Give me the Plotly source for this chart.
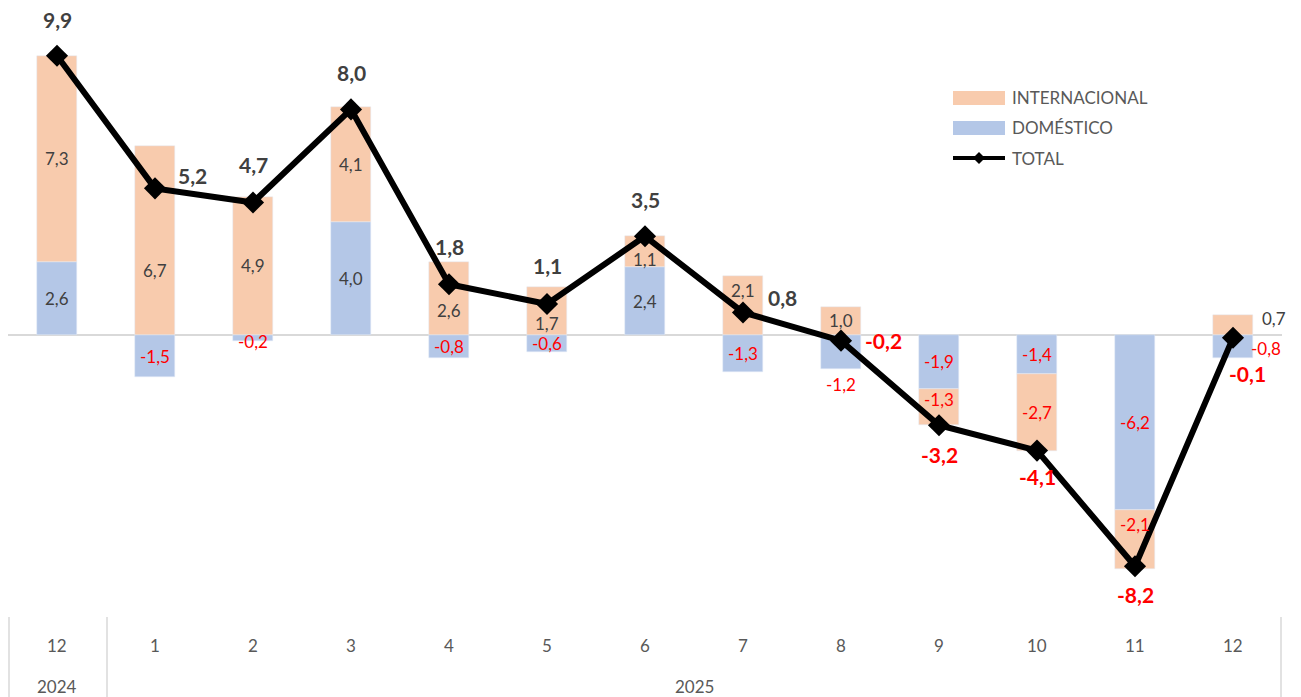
import plotly.graph_objects as go

months = ["12", "1", "2", "3", "4", "5", "6", "7", "8", "9", "10", "11", "12"]
years = ["2024", "2025"]
domestico = [2.6, -1.5, -0.2, 4.0, -0.8, -0.6, 2.4, -1.3, -1.2, -1.9, -1.4, -6.2, -0.8]
internacional = [7.3, 6.7, 4.9, 4.1, 2.6, 1.7, 1.1, 2.1, 1.0, -1.3, -2.7, -2.1, 0.7]
total = [9.9, 5.2, 4.7, 8.0, 1.8, 1.1, 3.5, 0.8, -0.2, -3.2, -4.1, -8.2, -0.1]

C_INT = "#F8CBAD"
C_DOM = "#B4C7E7"
RED = "#FF0000"
DARK = "#404040"
GRAY = "#595959"
FONT = "Lato"

# page body has an 8px margin; work in screen coordinates
OFF = 8
W, H = 1301 - OFF, 697 - OFF
L, R, T, B = 0, 19, 0, 92
PW, PH = W - L - R, H - T - B
ZERO_Y, SCALE = 335, 28.2
YMAX = (ZERO_Y - OFF) / SCALE
YMIN = -(605 - ZERO_Y) / SCALE

def fmt(v):
    return f"{v:.1f}".replace(".", ",")

def px(X):
    return (X - OFF - L) / PW

def py(Y):
    return (T + PH - (Y - OFF)) / PH

x = list(range(len(months)))

fig = go.Figure()
fig.add_trace(go.Bar(x=x, y=domestico, marker_color=C_DOM, width=0.41, name="DOMÉSTICO", showlegend=False))
fig.add_trace(go.Bar(x=x, y=internacional, marker_color=C_INT, width=0.41, name="INTERNACIONAL", showlegend=False))
fig.add_trace(go.Scatter(x=x, y=total, mode="lines+markers", name="TOTAL", showlegend=False,
                         line=dict(color="black", width=6),
                         marker=dict(symbol="diamond", size=17, color="black")))

ann = []
dom_shift = {2: (0, -4), 8: (0, -33), 12: (33, -2)}
int_shift = {1: (0, -30), 4: (0, -12), 5: (0, -12), 6: (0, -8), 7: (0, 15),
             9: (0, 7), 11: (0, 15), 12: (41, 7)}
for i in x:
    d, n = domestico[i], internacional[i]
    dc = d / 2
    base = d if (d * n > 0) else 0
    nc = base + n / 2
    sx, sy = dom_shift.get(i, (0, 0))
    ann.append(dict(x=i, y=dc, text=fmt(d), showarrow=False, xshift=sx, yshift=sy,
                    xanchor="center", yanchor="middle",
                    font=dict(family=FONT, size=17, color=RED if d < 0 else DARK)))
    sx, sy = int_shift.get(i, (0, 0))
    ann.append(dict(x=i, y=nc, text=fmt(n), showarrow=False, xshift=sx, yshift=sy,
                    xanchor="center", yanchor="middle",
                    font=dict(family=FONT, size=17, color=RED if n < 0 else DARK)))

tot_shift = [(0, 36), (37, 13), (0, 38), (0, 37), (0, 38), (0, 38), (0, 37), (39, 15),
             (42, 0), (0, -29), (0, -26), (0, -28), (14, -36)]
for i in x:
    sx, sy = tot_shift[i]
    ann.append(dict(x=i, y=total[i], text=f"<b>{fmt(total[i])}</b>", showarrow=False,
                    xshift=sx, yshift=sy, xanchor="center", yanchor="middle",
                    font=dict(family=FONT, size=21, color=RED if total[i] < 0 else DARK)))

for i, m in enumerate(months):
    ann.append(dict(x=i, y=py(645), yref="paper", text=m, showarrow=False,
                    xanchor="center", yanchor="middle",
                    font=dict(family=FONT, size=17, color=GRAY)))
ann.append(dict(x=0, y=py(686), yref="paper", text=years[0], showarrow=False,
                xanchor="center", yanchor="middle",
                font=dict(family=FONT, size=17, color=GRAY)))
ann.append(dict(x=6.5, y=py(686), yref="paper", text=years[1], showarrow=False,
                xanchor="center", yanchor="middle",
                font=dict(family=FONT, size=17, color=GRAY)))

shapes = []
for xp in [9, 107, 1281]:
    shapes.append(dict(type="line", xref="paper", yref="paper", x0=px(xp), x1=px(xp),
                       y0=py(617), y1=py(697), line=dict(color="#D9D9D9", width=1.5)))

leg = [("INTERNACIONAL", C_INT, 98), ("DOMÉSTICO", C_DOM, 128)]
for name, col, yc in leg:
    shapes.append(dict(type="rect", xref="paper", yref="paper", x0=px(953), x1=px(1005),
                       y0=py(yc - 7), y1=py(yc + 7), fillcolor=col, line=dict(width=0)))
    ann.append(dict(x=px(1010), y=py(yc), xref="paper", yref="paper", text=name, showarrow=False,
                    xanchor="left", yanchor="middle", font=dict(family=FONT, size=17, color=GRAY)))
shapes.append(dict(type="line", xref="paper", yref="paper", x0=px(953), x1=px(1005),
                   y0=py(158), y1=py(158), line=dict(color="black", width=4)))
cx, cy, r = 979, 158, 6
shapes.append(dict(type="path", xref="paper", yref="paper",
                   path=f"M{px(cx-r)},{py(cy)} L{px(cx)},{py(cy-r)} L{px(cx+r)},{py(cy)} L{px(cx)},{py(cy+r)} Z",
                   fillcolor="black", line=dict(width=0)))
ann.append(dict(x=px(1010), y=py(158), xref="paper", yref="paper", text="TOTAL", showarrow=False,
                xanchor="left", yanchor="middle", font=dict(family=FONT, size=17, color=GRAY)))

fig.update_layout(
    width=W, height=H, barmode="relative", bargap=0,
    margin=dict(l=L, r=R, t=T, b=B),
    plot_bgcolor="white", paper_bgcolor="white",
    xaxis=dict(range=[-0.5, 12.5], showticklabels=False, showgrid=False, zeroline=False,
               showline=False, fixedrange=True),
    yaxis=dict(range=[YMIN, YMAX], showticklabels=False, showgrid=False, zeroline=True,
               zerolinecolor="#D9D9D9", zerolinewidth=1.5, showline=False),
    annotations=ann, shapes=shapes, showlegend=False,
)
fig.write_html("out.html")
